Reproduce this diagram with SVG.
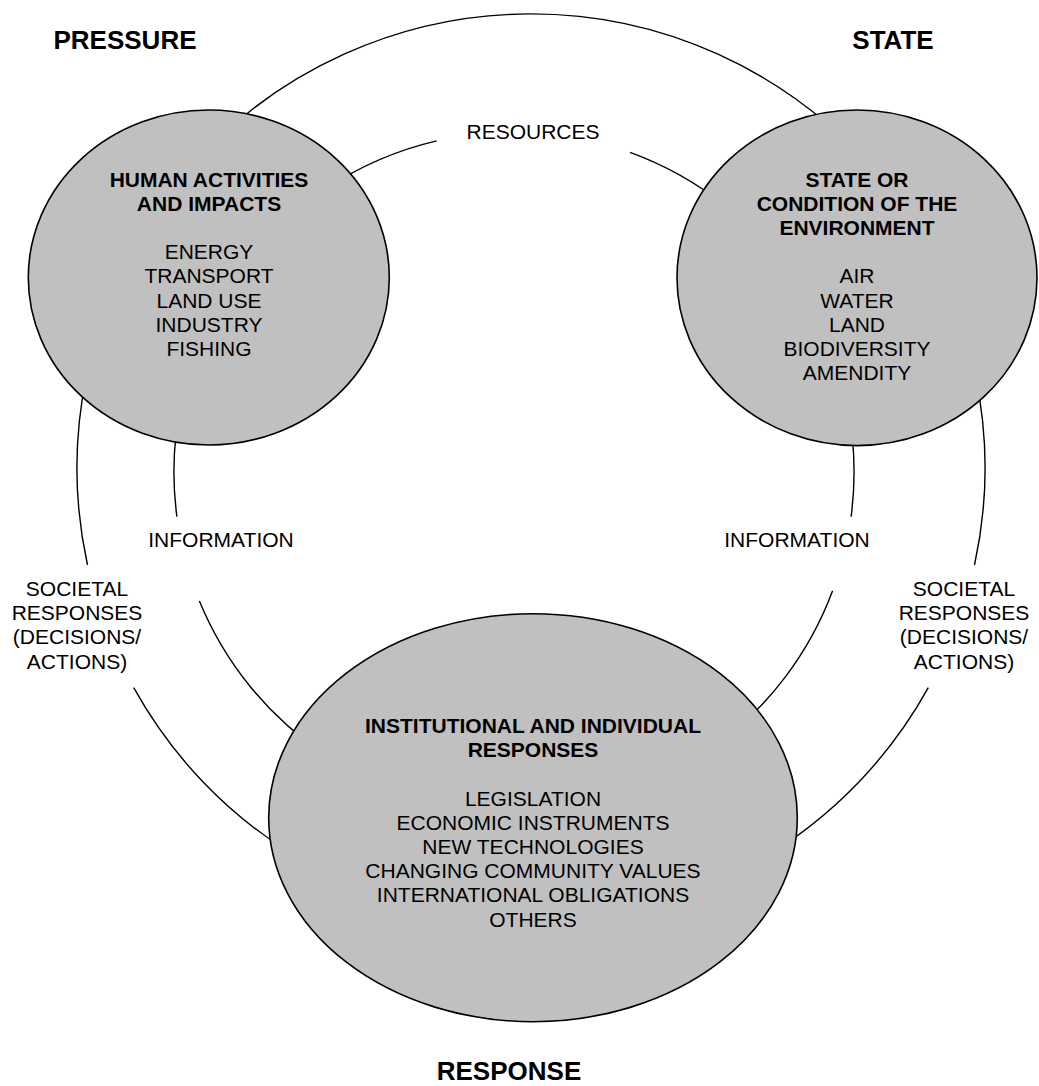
<svg xmlns="http://www.w3.org/2000/svg" width="1039" height="1086" viewBox="0 0 1039 1086">
<style>
text{font-family:"Liberation Sans",Arial,sans-serif;fill:#000;text-anchor:middle}
.b{font-weight:bold;font-size:21px}
.r{font-size:21px}
.h{font-weight:bold;font-size:26px}
.node{fill:#c0c0c0;stroke:#000;stroke-width:1.6}
.arc{fill:none;stroke:#000;stroke-width:1.4}
</style>
<rect width="1039" height="1086" fill="#fff"/>
<g id="headings">
<text class="h" x="125" y="49">PRESSURE</text>
<text class="h" x="893" y="49">STATE</text>
<text class="h" x="509" y="1080">RESPONSE</text>
</g>
<g id="connectors">
<path class="arc" d="M87.5,565 A454,454 0 1 1 974.5,565"/>
<path class="arc" d="M928.3,687.7 A454,454 0 0 1 133.7,687.7"/>
<path class="arc" d="M176.9,516.7 A340,340 0 0 1 436.7,140.9"/>
<path class="arc" d="M630,152.4 A340,340 0 0 1 851.1,516.7"/>
<path class="arc" d="M832.6,590.7 A340,340 0 0 1 199.4,601"/>
</g>
<g id="labels">
<text class="r" x="533" y="139">RESOURCES</text>
<text class="r" x="221" y="546.7">INFORMATION</text>
<text class="r" x="797" y="546.7">INFORMATION</text>
<text class="r" x="77"><tspan x="77" y="596">SOCIETAL</tspan><tspan x="77" y="620.2">RESPONSES</tspan><tspan x="77" y="644.4">(DECISIONS/</tspan><tspan x="77" y="668.6">ACTIONS)</tspan></text>
<text class="r" x="964"><tspan x="964" y="596">SOCIETAL</tspan><tspan x="964" y="620.2">RESPONSES</tspan><tspan x="964" y="644.4">(DECISIONS/</tspan><tspan x="964" y="668.6">ACTIONS)</tspan></text>
</g>
<g id="pressure">
<ellipse class="node" cx="208.8" cy="277.5" rx="180.5" ry="167.5"/>
<text class="b"><tspan x="209" y="186.5">HUMAN ACTIVITIES</tspan><tspan x="209" y="210.7">AND IMPACTS</tspan></text>
<text class="r"><tspan x="209" y="259.1">ENERGY</tspan><tspan x="209" y="283.3">TRANSPORT</tspan><tspan x="209" y="307.5">LAND USE</tspan><tspan x="209" y="331.7">INDUSTRY</tspan><tspan x="209" y="355.9">FISHING</tspan></text>
</g>
<g id="state">
<ellipse class="node" cx="857" cy="277.8" rx="180" ry="167.8"/>
<text class="b"><tspan x="857" y="186.5">STATE OR</tspan><tspan x="857" y="210.7">CONDITION OF THE</tspan><tspan x="857" y="234.9">ENVIRONMENT</tspan></text>
<text class="r"><tspan x="857" y="283.3">AIR</tspan><tspan x="857" y="307.5">WATER</tspan><tspan x="857" y="331.7">LAND</tspan><tspan x="857" y="355.9">BIODIVERSITY</tspan><tspan x="857" y="380.1">AMENDITY</tspan></text>
</g>
<g id="response">
<ellipse class="node" cx="533" cy="817.7" rx="264.3" ry="204"/>
<text class="b"><tspan x="533" y="733">INSTITUTIONAL AND INDIVIDUAL</tspan><tspan x="533" y="757.2">RESPONSES</tspan></text>
<text class="r"><tspan x="533" y="805.6">LEGISLATION</tspan><tspan x="533" y="829.8">ECONOMIC INSTRUMENTS</tspan><tspan x="533" y="854">NEW TECHNOLOGIES</tspan><tspan x="533" y="878.2">CHANGING COMMUNITY VALUES</tspan><tspan x="533" y="902.4">INTERNATIONAL OBLIGATIONS</tspan><tspan x="533" y="926.6">OTHERS</tspan></text>
</g>
</svg>
